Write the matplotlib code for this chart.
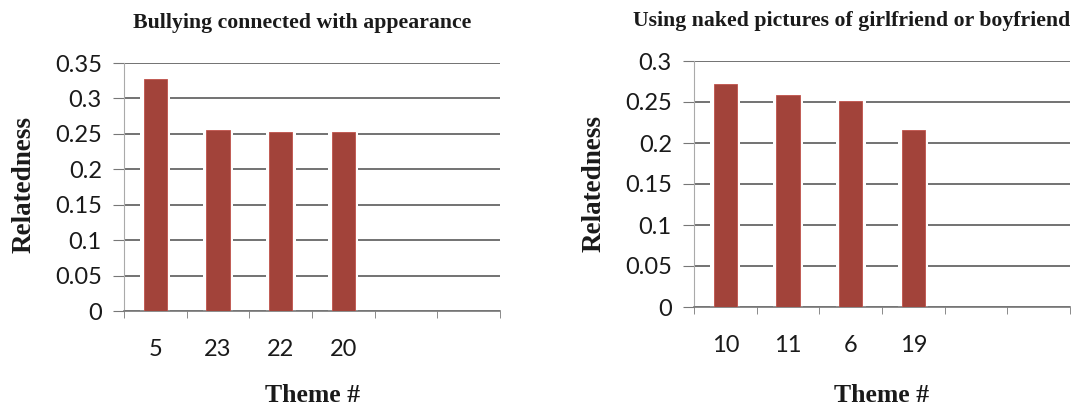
import matplotlib.pyplot as plt

# left chart
themes_left = ["5", "23", "22", "20"]
vals_left = [0.328, 0.255, 0.253, 0.252]
title_left = "Bullying connected with appearance"

# right chart
themes_right = ["10", "11", "6", "19"]
vals_right = [0.272, 0.259, 0.251, 0.216]
title_right = "Using naked pictures of girlfriend or boyfriend"

n_slots = 6
bar_color = "#a2433a"
tick_font = "Lato"
serif = "Liberation Serif"

fig = plt.figure(figsize=(10.85, 4.09), dpi=100)


def draw(rect, labels, vals, ymax, step, title, title_xy, xlab_xy, ylab_xy):
    ax = fig.add_axes(rect)
    pos = list(range(len(vals)))
    # white halo behind each bar breaks the gridlines like the original
    ax.bar(pos, vals, width=0.48, color="white", zorder=2)
    ax.bar(pos, vals, width=0.37, color=bar_color, edgecolor="#c0524a",
           linewidth=0.6, zorder=3)
    ax.set_xlim(-0.5, n_slots - 0.5)
    ax.set_ylim(0, ymax)
    ticks = [round(i * step, 2) for i in range(int(round(ymax / step)) + 1)]
    ax.set_yticks(ticks)
    ax.set_yticklabels(["0" if t == 0 else ("%g" % t) for t in ticks],
                       fontfamily=tick_font, fontsize=17, color="#1a1a1a")
    ax.yaxis.grid(True, color="#5a5a5a", linewidth=1.2, zorder=1)
    ax.set_axisbelow(True)
    ax.set_xticks(range(n_slots))
    ax.set_xticklabels(labels + [""] * (n_slots - len(labels)),
                       fontfamily=tick_font, fontsize=17, color="#1a1a1a")
    ax.tick_params(axis="x", which="major", length=0, pad=20)
    ax.set_xticks([i - 0.5 for i in range(n_slots + 1)], minor=True)
    ax.tick_params(axis="x", which="minor", length=5, color="#777777",
                   direction="out")
    ax.tick_params(axis="y", length=8, color="#777777", pad=8)
    for s in ["top", "right"]:
        ax.spines[s].set_visible(False)
    ax.spines["left"].set_color("#aaaaaa")
    ax.spines["bottom"].set_color("#777777")
    ax.spines["bottom"].set_linewidth(1.2)
    W, H = 1085.0, 409.0
    fig.text(title_xy[0] / W, 1 - title_xy[1] / H, title, ha="center",
             va="center", fontfamily=serif, fontweight="bold", fontsize=15.7,
             color="#1a1a1a")
    fig.text(xlab_xy[0] / W, 1 - xlab_xy[1] / H, "Theme #", ha="center",
             va="center", fontfamily=serif, fontweight="bold", fontsize=18.5,
             color="#1a1a1a")
    fig.text(ylab_xy[0] / W, 1 - ylab_xy[1] / H, "Relatedness", ha="center",
             va="center", rotation=90, fontfamily=serif, fontweight="bold",
             fontsize=19.5, color="#1a1a1a")
    return ax


draw([124 / 1085, 1 - 311 / 409, 376 / 1085, 248 / 409],
     themes_left, vals_left, 0.35, 0.05, title_left,
     (302, 23), (313, 396), (24, 185))
draw([694 / 1085, 1 - 307 / 409, 376 / 1085, 246 / 409],
     themes_right, vals_right, 0.3, 0.05, title_right,
     (852, 21), (882, 396), (594, 183))

fig.savefig("out.png", dpi=100)
